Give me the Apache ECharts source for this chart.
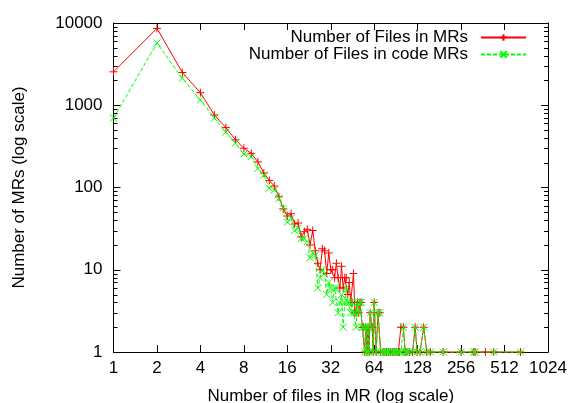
<!DOCTYPE html>
<html>
<head>
<meta charset="utf-8">
<script src="https://cdn.jsdelivr.net/npm/echarts@6/dist/echarts.min.js"></script>
<style>
  html, body { margin: 0; padding: 0; background: #fff; }
  #chart { width: 570px; height: 403px; }
</style>
</head>
<body>
<div id="chart"></div>
<script>
// number of files in an MR (x)
const fileCounts = [
  1, 2, 3, 4, 5, 6, 7, 8, 9, 10, 11, 12, 13, 14, 15, 16, 17, 18, 19, 20,
  21, 22, 23, 24, 25, 26, 27, 28, 29, 30, 31, 32, 33, 34, 35, 36, 37, 38, 39, 40,
  41, 42, 43, 44, 45, 46, 47, 48, 49, 50, 51, 52, 53, 54, 55, 56, 57, 58, 59, 60,
  62, 63, 64, 66, 68, 70, 71, 74, 76, 78, 80, 83, 86, 88, 91, 94, 96, 98, 102, 105,
  108, 112, 118, 123, 127, 133, 141, 148, 157, 192, 256, 313, 320, 377, 431, 660
];
// number of MRs with that many files
const allMRs = [
  2550, 8600, 2500, 1420, 760, 535, 380, 300, 260, 205, 150, 122, 104, 77, 55, 45, 48, 36, 37, 25,
  29, 31, 20, 30, 17, 12, 10, 18, 17, 9, 16, 10, 10, 8, 12, 8, 6, 11, 6, 8,
  8, 5, 7, 4, 4, 9, 3, 3, 4, 3, 4, 4, 2, 2, 1, 2, 1, 2, 1, 3,
  2, 1, 4, 1, 3, 3, 1, 1, 1, 1, 1, 1, 1, 1, 1, 1, 1, 2, 2, 1,
  1, 1, 1, 2, 1, 1, 2, 1, 1, 1, 1, 1, 1, 1, 1, 1
];
// same, code MRs only (null = none)
const codeMRs = [
  700, 5700, 2130, 1160, 700, 470, 345, 255, 237, 171, 142, 98, 93, 74, 56, 38, 42, 30, 32, 24,
  24, 22, 14, 16, 15, 6, 8, 10, 9, 5, 7, 6, 4, 6, 6, 3, 4, 5, 2, 4,
  6, 4, 4, 3, 4, 3, 3, 2, 4, 3, 4, 4, 2, 2, 1, 2, 1, 2, 1, 3,
  2, 1, 4, 1, 3, 3, 1, 1, 1, 1, 1, 1, 1, 1, 1, 1, 1, 1, 2, 1,
  1, 1, 1, 2, 1, 1, 2, 1, 1, 1, 1, 1, 1, null, 1, 1
];
const xTicks = [1, 2, 4, 8, 16, 32, 64, 128, 256, 512, 1024];
const yTicks = [1, 10, 100, 1000, 10000];

function pairs(vals) {
  return fileCounts.map((n, i) => [n, vals[i]]).filter(p => p[1] != null);
}

const FONT = 'Liberation Sans, Arial, sans-serif';
const plusSym = 'path://M0,5L10,5M5,0L5,10';
const crossSym = 'path://M0,0L10,10M10,0L0,10';

var myChart = echarts.init(document.getElementById('chart'));

const tickStyle = { show: true, inside: true, length: 7, lineStyle: { color: '#000', width: 1 } };
const lineAx = { show: true, onZero: false, lineStyle: { color: '#000', width: 1 } };

const option = {
  animation: false,
  backgroundColor: '#fff',
  textStyle: { fontFamily: FONT },
  grid: { left: 113.5, right: 22, top: 23, bottom: 51, containLabel: false, outerBoundsMode: 'none' },
  legend: {
    right: 38,
    top: 24,
    orient: 'vertical',
    align: 'right',
    itemWidth: 45,
    itemHeight: 8,
    itemGap: 0,
    textStyle: { fontFamily: FONT, fontSize: 17, color: '#000', padding: [0, 8, 0, 0] },
    data: ['Number of Files in MRs', 'Number of Files in code MRs']
  },
  xAxis: [{
    type: 'log', logBase: 2, min: 1, max: 1024, interval: 1,
    position: 'bottom',
    name: 'Number of files in MR (log scale)',
    nameLocation: 'middle', nameGap: 36,
    nameTextStyle: { fontFamily: FONT, fontSize: 17, color: '#000' },
    axisLine: lineAx, axisTick: tickStyle,
    axisLabel: {
      fontFamily: FONT, fontSize: 17, color: '#000', margin: 8,
      formatter: v => String(Math.round(v))
    },
    splitLine: { show: false }
  }, {
    type: 'log', logBase: 2, min: 1, max: 1024, interval: 1,
    position: 'top',
    axisLine: lineAx, axisTick: tickStyle,
    axisLabel: { show: false }, splitLine: { show: false }
  }],
  yAxis: [{
    type: 'log', logBase: 10, min: 1, max: 10000,
    position: 'left',
    name: 'Number of MRs (log scale)',
    nameLocation: 'middle', nameGap: 86,
    nameTextStyle: { fontFamily: FONT, fontSize: 17, color: '#000' },
    axisLine: lineAx, axisTick: tickStyle,
    axisLabel: {
      fontFamily: FONT, fontSize: 17, color: '#000', margin: 11,
      formatter: v => String(Math.round(v))
    },
    splitLine: { show: false }
  }, {
    type: 'log', logBase: 10, min: 1, max: 10000,
    position: 'right',
    axisLine: lineAx, axisTick: tickStyle,
    axisLabel: { show: false }, splitLine: { show: false }
  }],
  series: [{
    name: 'Number of Files in MRs',
    type: 'line',
    data: pairs(allMRs),
    clip: false,
    symbol: plusSym,
    symbolSize: 8,
    showAllSymbol: true,
    lineStyle: { color: '#ff0000', width: 1 },
    itemStyle: { color: '#ff0000', borderColor: '#ff0000', borderWidth: 1 },
    emphasis: { disabled: true },
    z: 3
  }, {
    name: 'Number of Files in code MRs',
    type: 'line',
    data: pairs(codeMRs),
    clip: false,
    symbol: crossSym,
    symbolSize: 7,
    showAllSymbol: true,
    lineStyle: { color: '#00ff00', width: 1, type: [4, 2] },
    itemStyle: { color: '#00ff00', borderColor: '#00ff00', borderWidth: 1 },
    emphasis: { disabled: true },
    z: 4
  }]
};
myChart.setOption(option);

// minor ticks on the log10 axis (2..9 per decade), left and right
const xl = myChart.convertToPixel({ xAxisIndex: 0 }, xTicks[0]);
const xr = myChart.convertToPixel({ xAxisIndex: 0 }, xTicks[xTicks.length - 1]);
const minor = [];
for (let d = 0; d < yTicks.length - 1; d++) {
  for (let k = 2; k <= 9; k++) {
    const y = Math.round(myChart.convertToPixel({ yAxisIndex: 0 }, yTicks[d] * k)) + 0.5;
    minor.push({ type: 'line', shape: { x1: xl, y1: y, x2: xl + 4, y2: y }, style: { stroke: '#000', lineWidth: 1 } });
    minor.push({ type: 'line', shape: { x1: xr - 4, y1: y, x2: xr, y2: y }, style: { stroke: '#000', lineWidth: 1 } });
  }
}
myChart.setOption({ graphic: minor });
</script>
</body>
</html>
